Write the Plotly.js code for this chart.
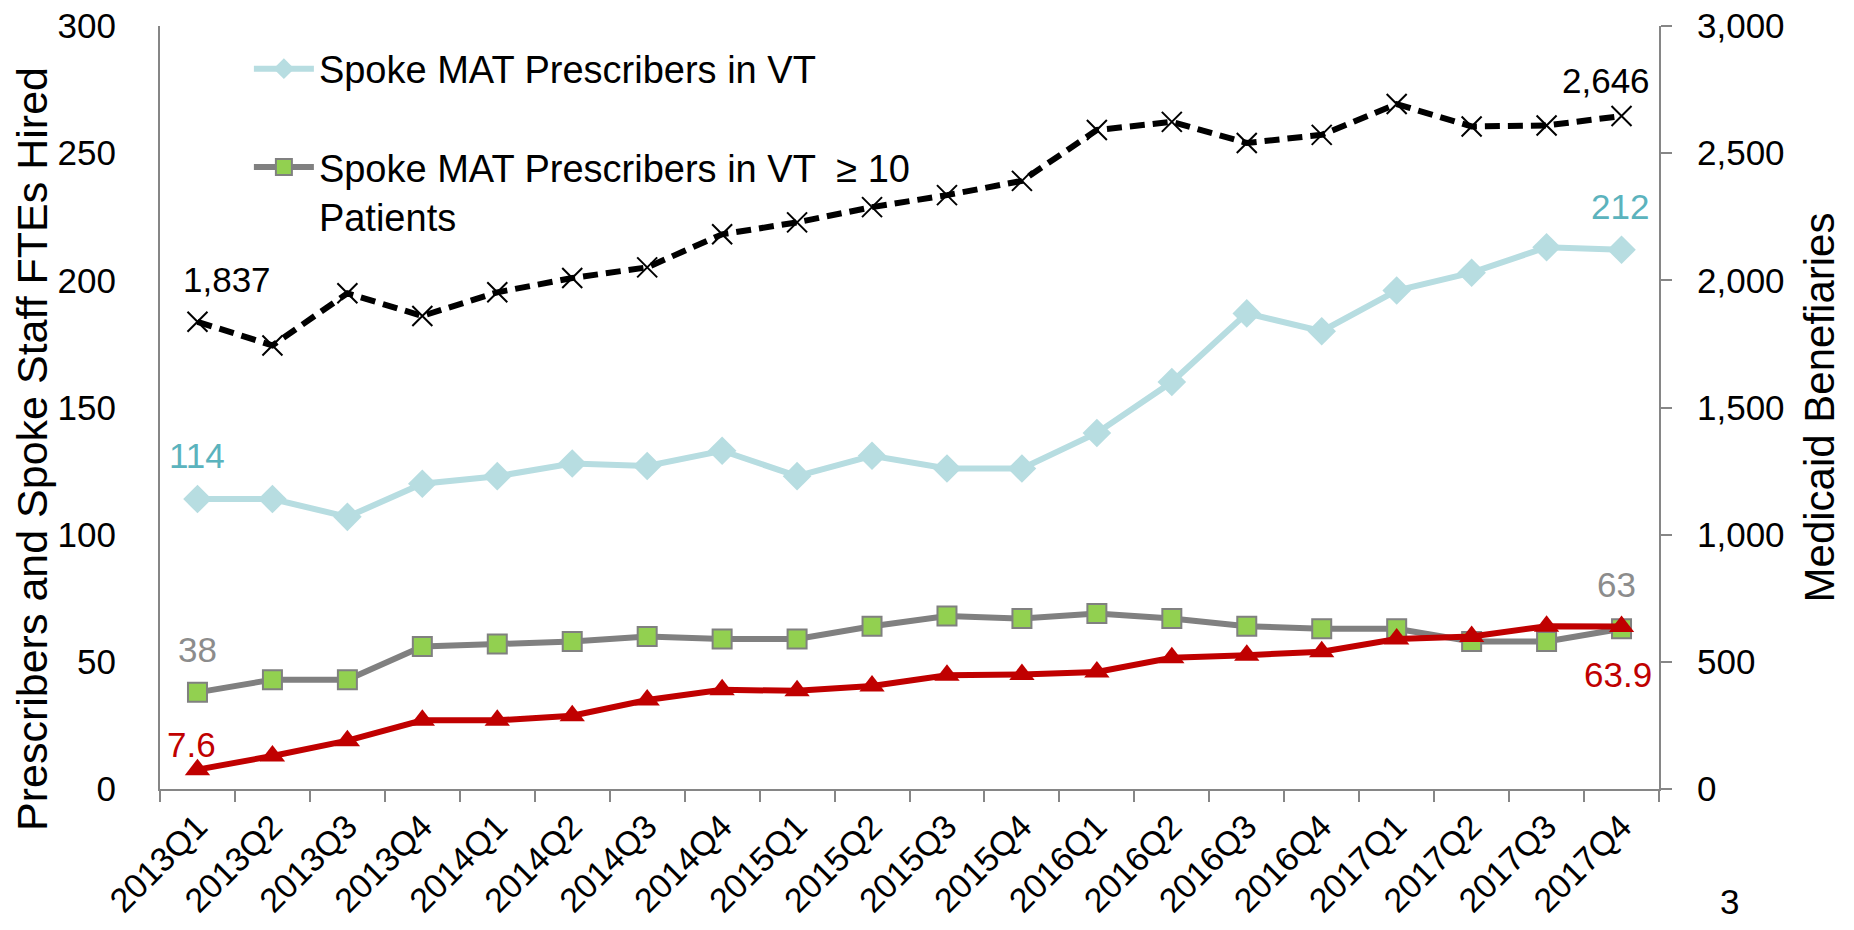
<!DOCTYPE html>
<html><head><meta charset="utf-8">
<script src="https://cdn.plot.ly/plotly-3.0.1.min.js"></script>
<style>html,body{margin:0;padding:0;background:#fff}</style>
</head><body><div id="chart" style="width:1854px;height:930px"></div>
<script>
const quarters = ['2013Q1','2013Q2','2013Q3','2013Q4','2014Q1','2014Q2','2014Q3','2014Q4',
  '2015Q1','2015Q2','2015Q3','2015Q4','2016Q1','2016Q2','2016Q3','2016Q4',
  '2017Q1','2017Q2','2017Q3','2017Q4'];
const prescribersVT = [114,114,107,120,123,128,127,133,123,131,126,126,140,160,187,180,196,203,213,212];
const prescribers10 = [38,43,43,56,57,58,60,59,59,64,68,67,69,67,64,63,63,58,58,63];
const staffFTEs = [7.6,13,19,27,27,28.8,35,39,38.6,40.5,44.7,45,46,51.6,52.6,54,59,60,64,63.9];
const medicaid = [1837,1744,1949,1860,1953,2009,2051,2181,2228,2288,2335,2391,2591,2623,2540,2572,2693,2605,2609,2646];
const seriesNames = ['Spoke MAT Prescribers in VT', 'Spoke MAT Prescribers in VT  \u2265 10<br>Patients'];
const leftTitle = 'Prescribers and Spoke Staff FTEs Hired';
const rightTitle = 'Medicaid Benefiaries';
const pageNumber = '3';

const LB = '#b7dde1', TEAL = '#5bb3bd', GR = '#808080', GRL = '#8c8c8c', GREEN = '#92d050', RED = '#c00000';
const fmt = v => v.toLocaleString('en-US');
const last = quarters.length - 1;

const traces = [
  {x: quarters, y: prescribersVT, name: seriesNames[0], type: 'scatter', mode: 'lines+markers',
   legendgroup: 'a', line: {color: LB, width: 6}, marker: {symbol: 'diamond', size: 22, color: LB}},
  {x: quarters, y: prescribers10, name: seriesNames[1], type: 'scatter', mode: 'lines+markers',
   legendgroup: 'b', line: {color: GR, width: 6},
   marker: {symbol: 'square', size: 19, color: GREEN, line: {color: GR, width: 2}}},
  {x: quarters, y: staffFTEs, name: 'Spoke Staff FTEs Hired', type: 'scatter', mode: 'lines+markers',
   showlegend: false, line: {color: RED, width: 6}, marker: {symbol: 'triangle-up', size: 22, color: RED}},
  {x: quarters, y: medicaid, name: 'Medicaid Beneficiaries', yaxis: 'y2', type: 'scatter', mode: 'lines+markers',
   showlegend: false, line: {color: '#000', width: 6, dash: '15px,8px'},
   marker: {symbol: 'x-thin', size: 20, color: '#000', line: {color: '#000', width: 2}}}
];

function lab(x, y, yref, text, color, xs, ys) {
  return {x: x, y: y, xref: 'x', yref: yref, text: text, showarrow: false,
    xshift: xs, yshift: ys, font: {size: 35, color: color}};
}
const annotations = [
  lab(quarters[0], medicaid[0], 'y2', fmt(medicaid[0]), '#000', 30, 42),
  lab(quarters[last], medicaid[last], 'y2', fmt(medicaid[last]), '#000', -16, 36),
  lab(quarters[0], prescribersVT[0], 'y', fmt(prescribersVT[0]), TEAL, 0, 44),
  lab(quarters[last], prescribersVT[last], 'y', fmt(prescribersVT[last]), TEAL, -2, 43),
  lab(quarters[0], prescribers10[0], 'y', fmt(prescribers10[0]), GRL, 0, 43),
  lab(quarters[last], prescribers10[last], 'y', fmt(prescribers10[last]), GRL, -5, 44),
  lab(quarters[0], staffFTEs[0], 'y', fmt(staffFTEs[0]), RED, -6, 25),
  lab(quarters[last], staffFTEs[last], 'y', fmt(staffFTEs[last]), RED, -4, -48),
  {x: -0.0854, y: 0.4456, xref: 'paper', yref: 'paper', text: leftTitle, showarrow: false,
   textangle: -90, xanchor: 'center', yanchor: 'middle', font: {size: 43, color: '#000'}},
  {x: 1.0547, y: -0.1755, xref: 'paper', yref: 'paper', text: pageNumber, showarrow: false,
   font: {size: 35, color: '#000'}}
];

const axCol = '#868686';
const layout = {
  width: 1854, height: 930,
  margin: {l: 160, r: 195, t: 26, b: 141},
  paper_bgcolor: '#fff', plot_bgcolor: '#fff',
  font: {family: '"Liberation Sans", Arial, sans-serif', size: 35, color: '#000'},
  showlegend: true,
  legend: {x: 0.0593, y: 0.985, xanchor: 'left', yanchor: 'top', bgcolor: 'rgba(0,0,0,0)',
    font: {size: 38}, valign: 'top', tracegroupgap: 46, itemwidth: 60},
  xaxis: {type: 'category', tickson: 'boundaries', ticks: 'outside', ticklen: 11, tickwidth: 2,
    tickcolor: axCol, showline: true, linecolor: axCol, linewidth: 2, tickangle: -45,
    tickfont: {size: 34}, ticklabelstandoff: 2, showgrid: false, zeroline: false, range: [-0.5, 19.5]},
  yaxis: {range: [0, 300], dtick: 50, tick0: 0, showline: true, linecolor: axCol, linewidth: 2,
    ticks: '', showgrid: false, zeroline: false, ticklabelstandoff: 35},
  yaxis2: {overlaying: 'y', side: 'right', range: [0, 3000], dtick: 500, tick0: 0, tickformat: ',',
    ticks: 'outside', ticklen: 11, tickwidth: 2, tickcolor: axCol, showline: true, linecolor: axCol,
    linewidth: 2, showgrid: false, zeroline: false, ticklabelstandoff: 18,
    title: {text: rightTitle, font: {size: 42}, standoff: 21}},
  annotations: annotations
};
Plotly.newPlot('chart', traces, layout, {displayModeBar: false, staticPlot: true});
</script></body></html>
